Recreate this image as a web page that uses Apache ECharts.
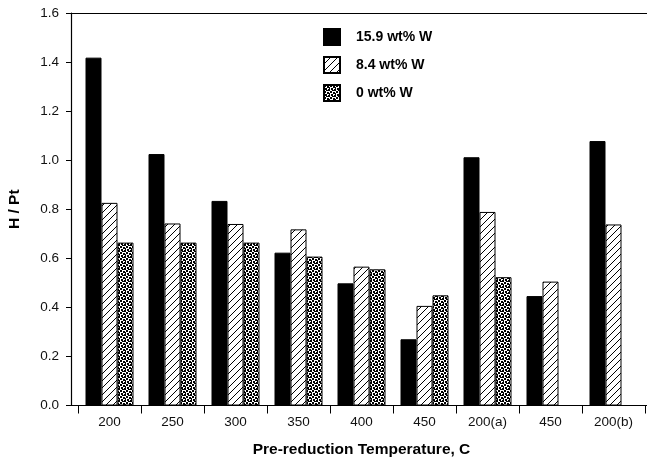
<!DOCTYPE html>
<html>
<head>
<meta charset="utf-8">
<script src="https://cdn.jsdelivr.net/npm/echarts@6/dist/echarts.min.js"></script>
<style>
  html, body { margin: 0; padding: 0; background: #fff; }
  #main { width: 647px; height: 457px; }
</style>
</head>
<body>
<div id="main"></div>
<script>
// categories (pre-reduction temperature)
var categories = ['200', '250', '300', '350', '400', '450', '200(a)', '450', '200(b)'];
var seriesNames = ['15.9 wt% W', '8.4 wt% W', '0 wt% W'];
var w159 = [1.418, 1.025, 0.834, 0.623, 0.498, 0.270, 1.012, 0.446, 1.078];
var w84 = [0.826, 0.742, 0.740, 0.718, 0.566, 0.406, 0.789, 0.505, 0.738];
var w0 = [0.664, 0.664, 0.664, 0.607, 0.555, 0.449, 0.523, null, null];

var fontFam = '"Liberation Sans", Arial, Helvetica, sans-serif';

// hatch pattern  ( / lines )
function hatchTile() {
    var n = 7;
    var c = document.createElement('canvas');
    c.width = n; c.height = n;
    var g = c.getContext('2d');
    g.fillStyle = '#fff';
    g.fillRect(0, 0, n, n);
    g.strokeStyle = '#000';
    g.lineWidth = 1;
    g.beginPath();
    g.moveTo(-1, n + 1); g.lineTo(n + 1, -1);
    g.moveTo(-1, 1); g.lineTo(1, -1);
    g.moveTo(n - 1, n + 1); g.lineTo(n + 1, n - 1);
    g.stroke();
    return c;
}
// stipple pattern
function dotTile() {
    var c = document.createElement('canvas');
    c.width = 6; c.height = 6;
    var g = c.getContext('2d');
    g.fillStyle = '#fff';
    g.fillRect(0, 0, 6, 6);
    g.fillStyle = '#000';
    var pts = [[0,0],[3,1],[1,3],[4,4],[2,5],[5,2]];
    pts.forEach(function(p){ g.fillRect(p[0], p[1], 2, 2); });
    return c;
}

var fills = [
    '#000',
    { image: hatchTile(), repeat: 'repeat' },
    { image: dotTile(), repeat: 'repeat' }
];
var dataSets = [w159, w84, w0];

var myChart = echarts.init(document.getElementById('main'));
var option = {
    animation: false,
    backgroundColor: '#fff',
    textStyle: { fontFamily: fontFam },
    legend: {
        orient: 'vertical',
        left: 318,
        top: 23,
        itemWidth: 16,
        itemHeight: 16,
        itemGap: 10,
        icon: 'rect',
        data: seriesNames,
        textStyle: { fontFamily: fontFam, fontSize: 14, fontWeight: 'bold', color: '#000', padding: [0, 0, 0, 11] }
    },
    grid: [
        { left: 78, right: 2, top: 13, bottom: 51.5, outerBoundsMode: 'none', containLabel: false },
        { left: 71, right: 0, top: 13, bottom: 51.5, outerBoundsMode: 'none', containLabel: false }
    ],
    xAxis: [
        {
            type: 'category',
            gridIndex: 0,
            data: categories,
            boundaryGap: true,
            name: 'Pre-reduction Temperature, C',
            nameLocation: 'middle',
            nameGap: 36,
            nameTextStyle: { fontFamily: fontFam, fontSize: 15.5, fontWeight: 'bold', color: '#000' },
            axisLine: { show: false },
            axisTick: { show: true, length: 8, lineStyle: { color: '#000' } },
            axisLabel: { fontFamily: fontFam, fontSize: 13.5, color: '#111', margin: 10 }
        },
        {
            type: 'value', gridIndex: 1, position: 'bottom', min: 0, max: 1,
            axisLine: { show: true, onZero: false, lineStyle: { color: '#000', width: 1.2 } },
            axisTick: { show: false }, axisLabel: { show: false }, splitLine: { show: false }
        },
        {
            type: 'value', gridIndex: 1, position: 'top', min: 0, max: 1,
            axisLine: { show: true, onZero: false, lineStyle: { color: '#000', width: 1.2 } },
            axisTick: { show: false }, axisLabel: { show: false }, splitLine: { show: false }
        }
    ],
    yAxis: [
        {
            type: 'value', gridIndex: 0, min: 0, max: 1.6, interval: 0.2,
            show: false
        },
        {
            type: 'value', gridIndex: 1, min: 0, max: 1.6, interval: 0.2,
            name: 'H / Pt',
            nameLocation: 'middle',
            nameGap: 48,
            nameTextStyle: { fontFamily: fontFam, fontSize: 15.5, fontWeight: 'bold', color: '#000' },
            axisLine: { show: true, lineStyle: { color: '#000', width: 1.2 } },
            axisTick: { show: true, length: 5, lineStyle: { color: '#000' } },
            axisLabel: {
                fontFamily: fontFam, fontSize: 13.5, color: '#111', margin: 12,
                formatter: function (v) { return v.toFixed(1); }
            },
            splitLine: { show: false }
        }
    ],
    series: seriesNames.map(function (name, i) {
        return {
            name: name,
            type: 'bar',
            xAxisIndex: 0,
            yAxisIndex: 0,
            barWidth: 16,
            barGap: '0%',
            data: dataSets[i],
            itemStyle: { color: fills[i], borderColor: '#000', borderWidth: 1 }
        };
    })
};
myChart.setOption(option);
</script>
</body>
</html>
